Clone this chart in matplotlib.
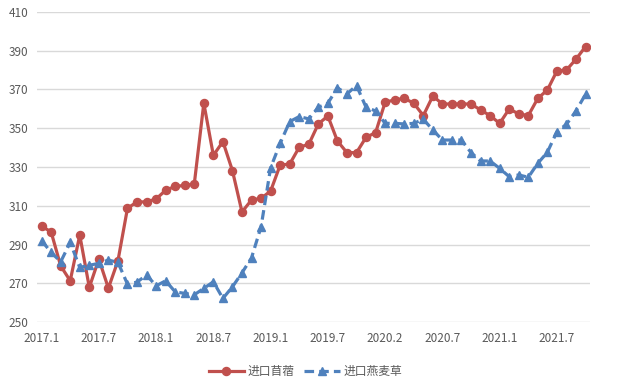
import matplotlib.pyplot as plt

plt.rcParams['font.family'] = ['Noto Sans CJK SC', 'DejaVu Sans']

# ---------- Data ----------
tick_labels = ["2017.1", "2017.7", "2018.1", "2018.7", "2019.1",
               "2019.7", "2020.2", "2020.7", "2021.1", "2021.7"]

alfalfa = [299.5, 296.5, 279, 271.3, 294.9, 267.9, 282.5, 267.5, 281.6, 308.7,
           312, 312, 313.5, 318, 320, 320.5, 321.2, 362.9, 336, 343.1,
           328.1, 306.8, 313, 313.8, 317.6, 331, 331.5, 340.2, 341.7, 352.2,
           356.3, 343.4, 337.4, 337.4, 345.3, 347.7, 363.4, 364.6, 365.4, 362.9,
           356.5, 366.6, 362.5, 362.5, 362.5, 362.5, 359.4, 356.5, 352.5, 359.9,
           357.4, 356.5, 365.4, 369.7, 379.5, 380, 385.6, 392.1]

oat_hay = [292, 286, 281.1, 291.1, 278.2, 279.3, 280.3, 282, 280.8, 269.6,
           270.6, 274.3, 268.7, 271.3, 265.6, 264.8, 264.1, 267.4, 270.8, 262.2,
           268.2, 275.4, 283.2, 299.2, 329.6, 342.2, 353.4, 356, 354.8, 360.8,
           362.9, 370.8, 367.7, 372, 360.8, 358.9, 352.5, 352.5, 352.2, 352.5,
           354.6, 349.1, 343.9, 343.9, 343.9, 337.4, 333.1, 333.1, 329.3, 325,
           325.9, 324.7, 331.9, 337.6, 348.2, 352, 358.9, 367.5]

x = list(range(len(alfalfa)))

# ---------- Plot ----------
fig = plt.figure(figsize=(6.24, 3.83), dpi=100)
ax = fig.add_axes([0.059, 0.159, 0.887, 0.81])

ax.plot(x, alfalfa, color='#C0504D', linewidth=2.3, marker='o',
        markersize=5.8, label='进口苜蓿', zorder=3)
ax.plot(x, oat_hay, color='#4F81BD', linewidth=2.3, linestyle=(0, (3, 1.6)),
        marker='^', markersize=6, label='进口燕麦草', zorder=3)

ax.set_ylim(250, 410)
ax.set_yticks(range(250, 411, 20))
ax.set_xlim(-0.5, len(x) - 0.5)
ax.set_xticks(range(0, len(x), 6))
ax.set_xticklabels(tick_labels)

ax.grid(axis='y', color='#D9D9D9', linewidth=1)
ax.set_axisbelow(True)
for s in ax.spines.values():
    s.set_visible(False)
ax.tick_params(axis='both', length=0, labelsize=8.5, colors='#595959')
ax.tick_params(axis='x', pad=7)
ax.tick_params(axis='y', pad=6)

leg = ax.legend(loc='upper center', bbox_to_anchor=(0.485, -0.105), ncol=2,
                frameon=False, fontsize=8.5, handlelength=3, columnspacing=0.8,
                handletextpad=0.3)
for t in leg.get_texts():
    t.set_color('#595959')

fig.savefig('out.png', dpi=100)
